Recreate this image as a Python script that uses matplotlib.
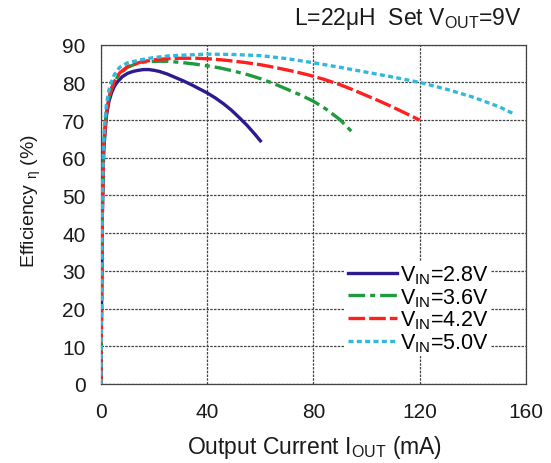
import matplotlib
matplotlib.use("Agg")
import matplotlib.pyplot as plt

plt.rcParams['font.family'] = ['Liberation Sans', 'DejaVu Sans']
plt.rcParams['mathtext.fontset'] = 'custom'
plt.rcParams['mathtext.rm'] = 'Liberation Sans'
plt.rcParams['mathtext.it'] = 'Liberation Sans:italic'
plt.rcParams['mathtext.default'] = 'regular'

# Data (Output current mA, efficiency %)
x_28 = [0, 0.2, 0.5, 1, 2, 3, 4, 5, 6, 8, 10, 12, 14, 16, 18, 20, 22, 25, 28, 31, 34, 37, 40,
        43, 46, 49, 52, 55, 58, 60]
y_28 = [0, 20, 45, 62, 71, 75, 77.3, 78.9, 80, 81.5, 82.4, 82.9, 83.2, 83.4, 83.4, 83.2, 82.9,
        82.2, 81.3, 80.4, 79.4, 78.3, 77.2, 75.9, 74.4, 72.7, 70.7, 68.6, 66.2, 64.5]

x_36 = [0, 0.2, 0.5, 1, 2, 3, 4, 5, 7, 10, 13, 16, 20, 25, 30, 35, 40, 45, 50, 55, 60, 65, 70,
        75, 80, 85, 90, 95]
y_36 = [0, 20, 45, 63, 72, 76, 78.3, 80, 82.3, 84, 84.9, 85.4, 85.6, 85.6, 85.3, 84.9, 84.4,
        83.8, 83, 82.1, 81, 79.7, 78.2, 76.7, 75, 72.8, 70.1, 66.5]

x_42 = [0, 0.2, 0.5, 1, 2, 3, 4, 5, 7, 10, 15, 20, 25, 30, 36, 42, 48, 54, 60, 66, 72, 78, 84,
        90, 95, 100, 105, 110, 115, 120]
y_42 = [0, 20, 45, 63, 72, 76, 78.5, 80.2, 82.5, 84.2, 85.4, 86, 86.3, 86.4, 86.4, 86.2, 85.8,
        85.3, 84.7, 83.9, 83, 82, 80.8, 79.4, 78, 76.5, 75, 73.4, 71.7, 70]

x_50 = [0, 0.2, 0.5, 1, 2, 3, 4, 5, 7, 10, 15, 20, 25, 30, 40, 50, 60, 70, 80, 90, 100, 110,
        120, 130, 140, 150, 155]
y_50 = [0, 22, 48, 65, 74, 78, 80.3, 82, 84, 85.2, 86, 86.6, 87, 87.2, 87.5, 87.4, 87.1, 86.3,
        85.2, 84, 82.7, 81.4, 80, 78.2, 76.1, 73.5, 71.8]

labels = [r"V$_{\mathregular{IN}}$=2.8V", r"V$_{\mathregular{IN}}$=3.6V",
          r"V$_{\mathregular{IN}}$=4.2V", r"V$_{\mathregular{IN}}$=5.0V"]
xticks = [0, 40, 80, 120, 160]
yticks = [0, 10, 20, 30, 40, 50, 60, 70, 80, 90]

fig = plt.figure(figsize=(5.51, 4.64), dpi=100)
ax = fig.add_axes([0.1833, 0.1703, 0.7713, 0.7312])

lw = 2.4
ax.plot(x_28, y_28, color='#2b1b8f', lw=lw, ls='-', label=labels[0], zorder=3)
ax.plot(x_36, y_36, color='#1f9a3e', lw=lw, ls=(0, (5, 1.5, 1.5, 1.5)), label=labels[1], zorder=3)
ax.plot(x_42, y_42, color='#ff1f1f', lw=lw, ls=(0, (5, 1.2)), label=labels[2], zorder=3)
ax.plot(x_50, y_50, color='#33b8dd', lw=lw, ls=(0, (1.5, 1)), label=labels[3], zorder=3)

ax.set_xlim(0, 160)
ax.set_ylim(0, 90)
ax.set_xticks(xticks)
ax.set_yticks(yticks)
ax.tick_params(length=0, labelsize=15, colors='#1a1a1a')
ax.tick_params(axis='x', pad=13)
ax.tick_params(axis='y', pad=11)
ax.grid(True, color='#444444', lw=0.9, ls=(0, (2, 1)))
for s in ax.spines.values():
    s.set_color('#444444')
    s.set_linewidth(0.9)
    s.set_linestyle((0, (2, 1)))

ax.set_xlabel(r"Output Current I$_{\mathregular{OUT}}$ (mA)", fontsize=16.5, color='#1a1a1a')
ax.xaxis.set_label_coords(0.503, -0.145)
ax.set_ylabel(r"Efficiency $_{\mathregular{\eta}}$ (%)", fontsize=14, color='#1a1a1a')
ax.yaxis.set_label_coords(-0.137, 0.542)

fig.text(0.947, 0.959, r"L=22$\mu$H  Set V$_{\mathregular{OUT}}$=9V", ha='right', va='center',
         fontsize=16.5, color='#1a1a1a')

leg = ax.legend(loc='upper left', bbox_to_anchor=(0.575, 0.362), frameon=True, fontsize=15.5,
                handlelength=2.3, handletextpad=0.15, labelspacing=0.0, borderpad=0.1,
                borderaxespad=0)
leg.get_frame().set_edgecolor('none')
leg.get_frame().set_facecolor('white')
leg.get_frame().set_alpha(1)

fig.savefig("out.png", dpi=100)
